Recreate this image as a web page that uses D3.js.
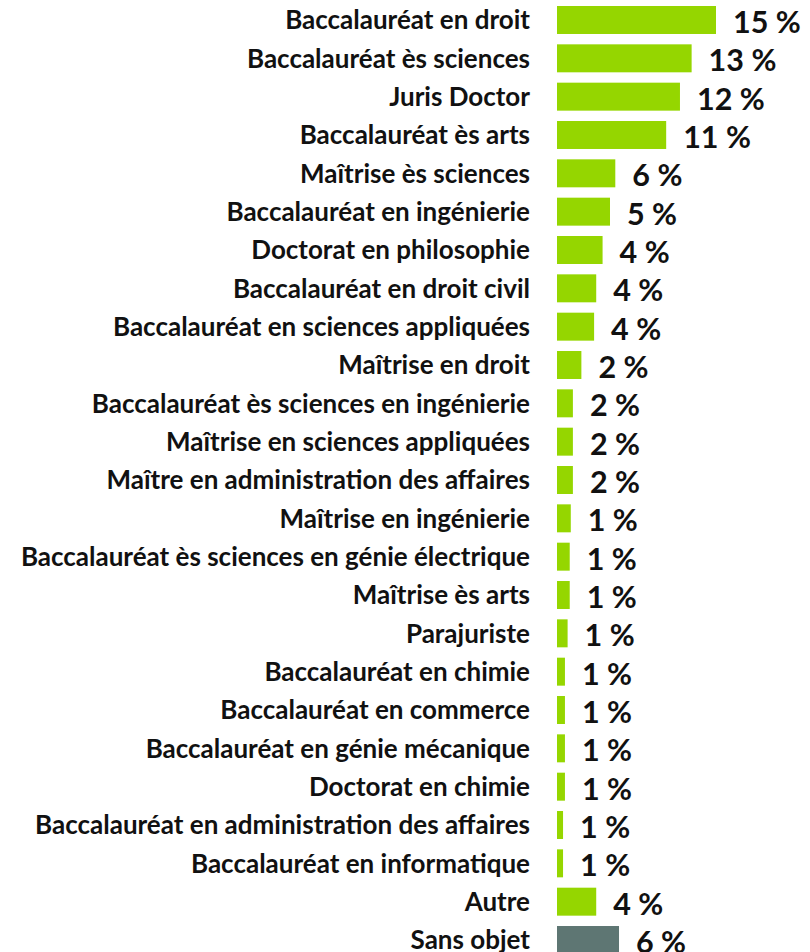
<!DOCTYPE html>
<html><head><meta charset="utf-8">
<script src="https://cdn.jsdelivr.net/npm/d3@7"></script>
<style>body{margin:0;background:#fff}</style></head>
<body><svg id="c" width="810" height="952"></svg>
<script>
const categories = [
  "Baccalauréat en droit","Baccalauréat ès sciences","Juris Doctor","Baccalauréat ès arts",
  "Maîtrise ès sciences","Baccalauréat en ingénierie","Doctorat en philosophie","Baccalauréat en droit civil",
  "Baccalauréat en sciences appliquées","Maîtrise en droit","Baccalauréat ès sciences en ingénierie",
  "Maîtrise en sciences appliquées","Maître en administration des affaires","Maîtrise en ingénierie",
  "Baccalauréat ès sciences en génie électrique","Maîtrise ès arts","Parajuriste","Baccalauréat en chimie",
  "Baccalauréat en commerce","Baccalauréat en génie mécanique","Doctorat en chimie",
  "Baccalauréat en administration des affaires","Baccalauréat en informatique","Autre","Sans objet"];
const values = [15.0,12.7,11.6,10.3,5.5,5.0,4.3,3.7,3.5,2.3,1.5,1.5,1.5,1.3,1.2,1.2,1.0,0.75,0.75,0.75,0.75,0.57,0.57,3.7,5.85];
const valueLabels = ["15 %","13 %","12 %","11 %","6 %","5 %","4 %","4 %","4 %","2 %","2 %","2 %","2 %","1 %","1 %","1 %","1 %","1 %","1 %","1 %","1 %","1 %","1 %","4 %","6 %"];
const svg = d3.select("#c");
const font = "Lato, sans-serif";
const x = d3.scaleLinear().domain([0,15]).range([557,716]);
const y = d3.scaleBand().domain(categories).range([6,954]).paddingInner(0.27).paddingOuter(0);
svg.selectAll("rect").data(categories).join("rect")
  .attr("x", x(0)).attr("y", d=>y(d)).attr("height", y.bandwidth())
  .attr("width", (d,i)=>x(values[i])-x(0))
  .attr("fill", d=> d==="Sans objet" ? "#5E7673" : "#95D600");
svg.selectAll("text.cat").data(categories).join("text").attr("class","cat")
  .attr("x",530).attr("y", d=>y(d)+y.bandwidth()/2).attr("dy","0.36em")
  .attr("text-anchor","end").attr("font-family",font).attr("font-weight","bold").attr("font-size",26)
  .attr("fill","#111").text(d=>d);
svg.selectAll("text.val").data(categories).join("text").attr("class","val")
  .attr("x",(d,i)=>x(values[i])+17).attr("y", d=>y(d)+y.bandwidth()/2).attr("dy","0.43em")
  .attr("font-family",font).attr("font-weight","bold").attr("font-size",30.5)
  .attr("fill","#111").text((d,i)=>valueLabels[i]);
</script></body></html>
